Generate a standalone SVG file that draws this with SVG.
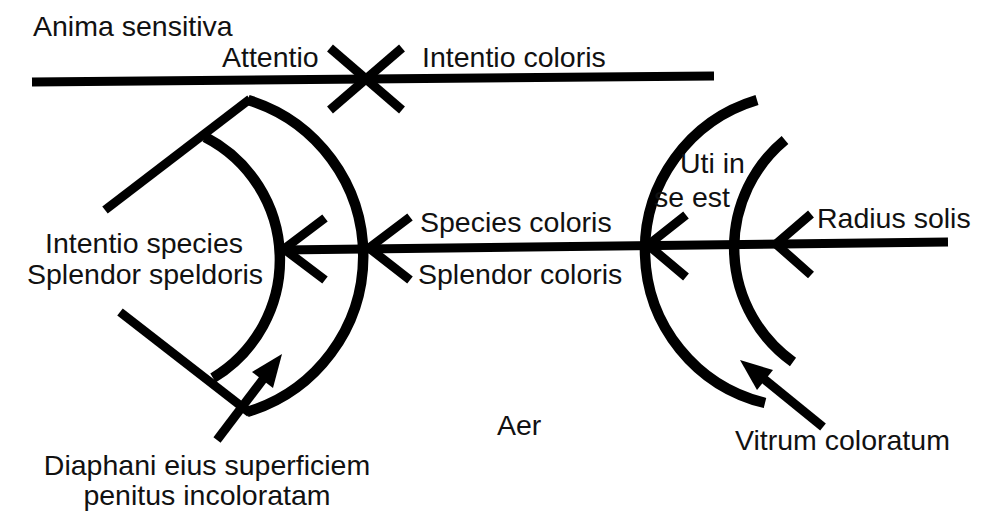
<svg xmlns="http://www.w3.org/2000/svg" width="988" height="515" viewBox="0 0 988 515">
<style>
.t{font-family:"Liberation Sans",Arial,sans-serif;font-size:28.5px;fill:#111}
.s{fill:none;stroke:#000;stroke-width:9;stroke-linecap:butt;stroke-linejoin:miter}
.a{fill:none;stroke:#000;stroke-width:10.5;stroke-linecap:butt}
.h{fill:#000;stroke:none}
</style>
<rect width="988" height="515" fill="#fff"/>
<g id="anima">
<line class="s" x1="32" y1="82" x2="714" y2="76"/>
<text class="t" x="33" y="36">Anima sensitiva</text>
</g>
<g id="attentio">
<line class="s" x1="330" y1="48" x2="402" y2="110"/>
<text class="t" x="222" y="67">Attentio</text>
</g>
<g id="intentio-coloris">
<line class="s" x1="402" y1="48" x2="330" y2="110"/>
<text class="t" x="422" y="67">Intentio coloris</text>
</g>
<g id="eye">
<path class="s" d="M105,210 L250,99"/>
<path class="s" d="M120,312 L250,413"/>
<path class="a" d="M248,100 A163,163 0 0 1 247,412"/>
<path class="a" d="M205,137 A138,138 0 0 1 213,378"/>
<text class="t" x="45" y="253">Intentio species</text>
<text class="t" x="27" y="284">Splendor speldoris</text>
</g>
<g id="vitrum">
<path class="a" d="M757,100 A157,157 0 0 0 765,403"/>
<path class="a" d="M785,140 A140,140 0 0 0 793,362"/>
<text class="t" x="680" y="173">Uti in</text>
<text class="t" x="654" y="207">se est</text>
</g>
<g id="radius">
<text class="t" x="817" y="228">Radius solis</text>
</g>
<g id="species">
<text class="t" x="420" y="232">Species coloris</text>
<text class="t" x="418" y="284">Splendor coloris</text>
</g>
<g id="aer">
<text class="t" x="497" y="435">Aer</text>
</g>
<g id="diaphani">
<text class="t" x="207" y="475" text-anchor="middle">Diaphani eius superficiem</text>
<text class="t" x="207" y="505" text-anchor="middle">penitus incoloratam</text>
</g>
<g id="vitrum-label">
<text class="t" x="735" y="450">Vitrum coloratum</text>
</g>
<g id="connectors">
<line class="s" x1="282" y1="250" x2="948" y2="242"/>
<polyline class="s" points="325,218 284,249 325,280"/>
<polyline class="s" points="410,217 369,248 410,280"/>
<polyline class="s" points="686,215 648,245 686,277"/>
<polyline class="s" points="811,214 776,244 811,275"/>
<line class="s" x1="217" y1="440" x2="264" y2="378"/>
<polygon class="h" points="282,354 273,388 252,372"/>
<line class="s" x1="823" y1="427" x2="764" y2="379"/>
<polygon class="h" points="740,360 773,370 757,390"/>
</g>
</svg>
